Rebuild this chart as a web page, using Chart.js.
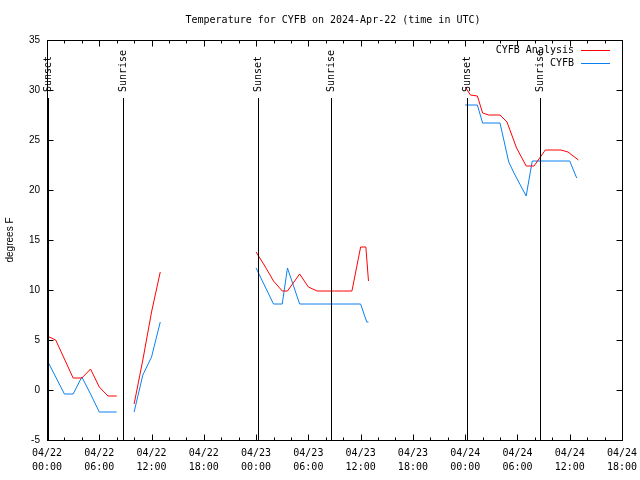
<!DOCTYPE html>
<html>
<head>
<meta charset="utf-8">
<script src="https://cdn.jsdelivr.net/npm/chart.js@4.4.1/dist/chart.umd.min.js"></script>
<style>
html, body { margin: 0; padding: 0; background: #fff; }
</style>
</head>
<body>
<canvas id="myChart" width="640" height="480"></canvas>
<script>
// hours since 04/22 00:00 UTC, null = gap in the record
var analysisHours = [0, 1, 2, 3, 4, 5, 6, 7, 8, 9,
  10, 11, 12, 13, 18,
  24, 25, 26, 27, 27.6, 29, 30, 31, 32, 33, 34, 35, 36, 36.6, 36.9, 42,
  48, 48.6, 49.4, 50, 50.7, 52, 52.8, 53.9, 55, 55.9, 57.2, 59, 59.8, 61];
var analysisTemps = [5.4, 5.0, 3.1, 1.2, 1.2, 2.1, 0.3, -0.6, -0.6, null,
  -1.4, 3.0, 7.8, 11.8, null,
  13.8, 12.4, 10.9, 9.9, 9.9, 11.6, 10.3, 9.9, 9.9, 9.9, 9.9, 9.9, 14.3, 14.3, 10.9, null,
  30.3, 29.5, 29.4, 27.7, 27.5, 27.5, 26.8, 24.2, 22.4, 22.4, 24.0, 24.0, 23.8, 23.0];

var obsHours = [0, 1, 2, 3, 4, 5, 6, 7, 8, 9,
  10, 11, 12, 13, 18,
  24, 25, 26, 27, 27.6, 29, 30, 31, 32, 33, 34, 35, 36, 36.7, 36.9, 42,
  48, 49.4, 50, 52, 53, 53.6, 55, 55.7, 60, 60.8];
var obsTemps = [3.0, 1.3, -0.4, -0.4, 1.3, -0.4, -2.2, -2.2, -2.2, null,
  -2.2, 1.5, 3.3, 6.8, null,
  12.2, 10.4, 8.6, 8.6, 12.2, 8.6, 8.6, 8.6, 8.6, 8.6, 8.6, 8.6, 8.6, 6.8, 6.8, null,
  28.5, 28.5, 26.7, 26.7, 22.8, 21.7, 19.4, 22.9, 22.9, 21.2];

var sunHours = [0.15, 8.72, 24.26, 32.64, 48.25, 56.55];
var sunNames = ["Sunset", "Sunrise", "Sunset", "Sunrise", "Sunset", "Sunrise"];

var tickDays = ["04/22", "04/23", "04/24"];
var tickTimes = ["00:00", "06:00", "12:00", "18:00"];

var titleText = "Temperature for CYFB on 2024-Apr-22 (time in UTC)";
var monoFont = "'DejaVu Sans Mono', monospace";

var toPoints = function (hours, temps) {
  var pts = [];
  for (var i = 0; i < hours.length; i++) {
    pts.push({ x: hours[i], y: temps[i] });
  }
  return pts;
};

var gnuplotFrame = {
  id: "gnuplotFrame",
  afterDatasetsDraw: function (chart) {
    var ctx = chart.ctx;
    var area = chart.chartArea;
    var xs = chart.scales.x;
    var ys = chart.scales.y;
    var L = Math.round(area.left) + 0.5, R = Math.round(area.right) + 0.5;
    var T = Math.round(area.top) + 0.5, B = Math.round(area.bottom) + 0.5;

    ctx.save();
    ctx.strokeStyle = "#000";
    ctx.fillStyle = "#000";
    ctx.lineWidth = 1;

    // title, centred like gnuplot does it
    ctx.font = "10px " + monoFont;
    ctx.textAlign = "center";
    ctx.textBaseline = "middle";
    ctx.fillText(titleText, 333, 20);

    // sunrise / sunset markers
    var lineTop = Math.round(ys.getPixelForValue(29.2));
    for (var i = 0; i < sunHours.length; i++) {
      var sx = Math.round(xs.getPixelForValue(sunHours[i])) + 0.5;
      ctx.beginPath();
      ctx.moveTo(sx, B);
      ctx.lineTo(sx, lineTop);
      ctx.stroke();
      ctx.save();
      ctx.translate(sx, ys.getPixelForValue(29.8));
      ctx.rotate(-Math.PI / 2);
      ctx.textAlign = "left";
      ctx.textBaseline = "middle";
      ctx.fillText(sunNames[i], 0, 0);
      ctx.restore();
    }

    // border
    ctx.strokeRect(L, T, R - L, B - T);

    // inward tick marks, mirrored
    ctx.beginPath();
    xs.ticks.forEach(function (t) {
      var px = Math.round(xs.getPixelForValue(t.value)) + 0.5;
      var len = (t.value % 6 === 0) ? 6 : 3;
      ctx.moveTo(px, B); ctx.lineTo(px, B - len);
      ctx.moveTo(px, T); ctx.lineTo(px, T + len);
    });
    ys.ticks.forEach(function (t) {
      var py = Math.round(ys.getPixelForValue(t.value)) + 0.5;
      ctx.moveTo(L, py); ctx.lineTo(L + 6, py);
      ctx.moveTo(R, py); ctx.lineTo(R - 6, py);
    });
    ctx.stroke();

    // key, top right: text then line sample
    ctx.textAlign = "right";
    ctx.textBaseline = "middle";
    chart.data.datasets.forEach(function (ds, k) {
      var ky = 50 + k * 13;
      ctx.fillStyle = "#000";
      ctx.fillText(ds.label, 574, ky);
      ctx.strokeStyle = ds.borderColor;
      ctx.beginPath();
      ctx.moveTo(581, ky + 0.5);
      ctx.lineTo(610, ky + 0.5);
      ctx.stroke();
    });
    ctx.restore();
  }
};

Chart.defaults.font.family = monoFont;
Chart.defaults.font.size = 10;
Chart.defaults.color = "#000";

var ctx = document.getElementById("myChart");
var myChart = new Chart(ctx, {
  type: "line",
  data: {
    datasets: [{
      label: "CYFB Analysis",
      data: toPoints(analysisHours, analysisTemps),
      borderColor: "#ff0000",
      borderWidth: 1,
      pointRadius: 0,
      fill: false,
      spanGaps: false
    }, {
      label: "CYFB",
      data: toPoints(obsHours, obsTemps),
      borderColor: "#0a80f0",
      borderWidth: 1,
      pointRadius: 0,
      fill: false,
      spanGaps: false
    }]
  },
  options: {
    responsive: false,
    animation: false,
    devicePixelRatio: 1,
    layout: { padding: { left: 0, right: 18, top: 40, bottom: 0 } },
    plugins: {
      legend: { display: false },
      tooltip: { enabled: false },
      title: { display: false }
    },
    scales: {
      x: {
        type: "linear",
        min: 0,
        max: 66,
        grid: { display: false, drawTicks: false },
        border: { display: false },
        afterFit: function (scale) {
          scale.height = 40;
          scale.paddingLeft = 0;
          scale.paddingRight = 0;
        },
        ticks: {
          stepSize: 2,
          autoSkip: false,
          maxRotation: 0,
          padding: 6,
          font: { family: monoFont, size: 10, lineHeight: 1.4 },
          callback: function (v) {
            if (v % 6 !== 0) return "";
            return [tickDays[Math.floor(v / 24)], tickTimes[(v % 24) / 6]];
          }
        }
      },
      y: {
        min: -5,
        max: 35,
        grid: { display: false, drawTicks: false },
        border: { display: false },
        afterFit: function (scale) {
          scale.width = 47;
          scale.paddingTop = 0;
          scale.paddingBottom = 0;
        },
        title: {
          display: true,
          text: "degrees F",
          font: { family: "'Liberation Sans', sans-serif", size: 10 },
          padding: { top: 4, bottom: 0 }
        },
        ticks: {
          stepSize: 5,
          padding: 7,
          font: { family: "'Liberation Sans', sans-serif", size: 10 }
        }
      }
    }
  },
  plugins: [gnuplotFrame]
});
</script>
</body>
</html>
